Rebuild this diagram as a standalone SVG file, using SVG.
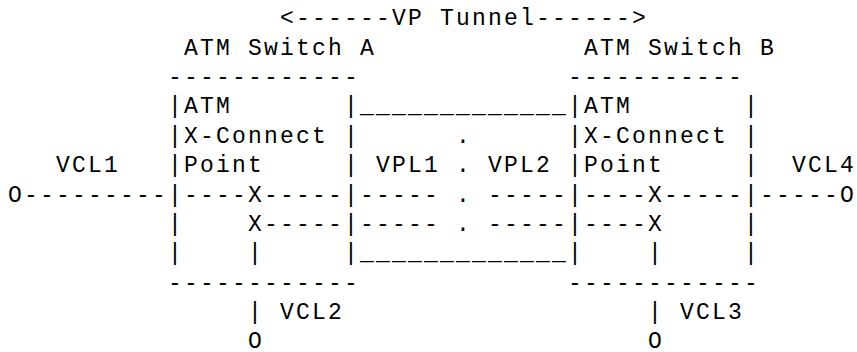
<svg xmlns="http://www.w3.org/2000/svg" width="857" height="352" viewBox="0 0 857 352">
<style>
text{font-family:"Liberation Mono","DejaVu Sans Mono",monospace;font-size:23px;letter-spacing:2.2px;fill:#000;white-space:pre}
</style>
<rect width="857" height="352" fill="#fff"/>
<g id="vp-tunnel">
<text x="280" y="25.2" xml:space="preserve">&lt;------VP Tunnel------&gt;</text>
</g>
<g id="switch-a">
<text x="184" y="54.6" xml:space="preserve">ATM Switch A</text>
<text x="168" y="84" xml:space="preserve">------------</text>
<text x="168" y="113.4" xml:space="preserve">|ATM       |</text>
<text x="168" y="142.8" xml:space="preserve">|X-Connect |</text>
<text x="168" y="172.2" xml:space="preserve">|Point     |</text>
<text x="168" y="201.6" xml:space="preserve">|----X-----|</text>
<text x="168" y="231" xml:space="preserve">|    X-----|</text>
<text x="168" y="260.4" xml:space="preserve">|    |     |</text>
<text x="168" y="289.8" xml:space="preserve">------------</text>
</g>
<g id="switch-b">
<text x="584" y="54.6" xml:space="preserve">ATM Switch B</text>
<text x="568" y="84" xml:space="preserve">-----------</text>
<text x="568" y="113.4" xml:space="preserve">|ATM       |</text>
<text x="568" y="142.8" xml:space="preserve">|X-Connect |</text>
<text x="568" y="172.2" xml:space="preserve">|Point     |</text>
<text x="568" y="201.6" xml:space="preserve">|----X-----|</text>
<text x="568" y="231" xml:space="preserve">|----X     |</text>
<text x="568" y="260.4" xml:space="preserve">|    |     |</text>
<text x="568" y="289.8" xml:space="preserve">------------</text>
</g>
<g id="vcl1-end">
<text x="56" y="172.2" xml:space="preserve">VCL1</text>
</g>
<g id="vcl4-end">
<text x="792" y="172.2" xml:space="preserve">VCL4</text>
</g>
<g id="vcl2-end">
<text x="248" y="347.6" xml:space="preserve">O</text>
</g>
<g id="vcl3-end">
<text x="648" y="347.6" xml:space="preserve">O</text>
</g>
<g id="connectors">
<text x="8" y="201.6" xml:space="preserve">O---------</text>
<text x="760" y="201.6" xml:space="preserve">-----O</text>
<text x="360" y="113.4" xml:space="preserve">_____________</text>
<text x="360" y="142.8" xml:space="preserve">      .      </text>
<text x="360" y="172.2" xml:space="preserve"> VPL1 . VPL2 </text>
<text x="360" y="201.6" xml:space="preserve">----- . -----</text>
<text x="360" y="231" xml:space="preserve">----- . -----</text>
<text x="360" y="260.4" xml:space="preserve">_____________</text>
<text x="248" y="319.2" xml:space="preserve">| VCL2</text>
<text x="648" y="319.2" xml:space="preserve">| VCL3</text>
</g>
</svg>
